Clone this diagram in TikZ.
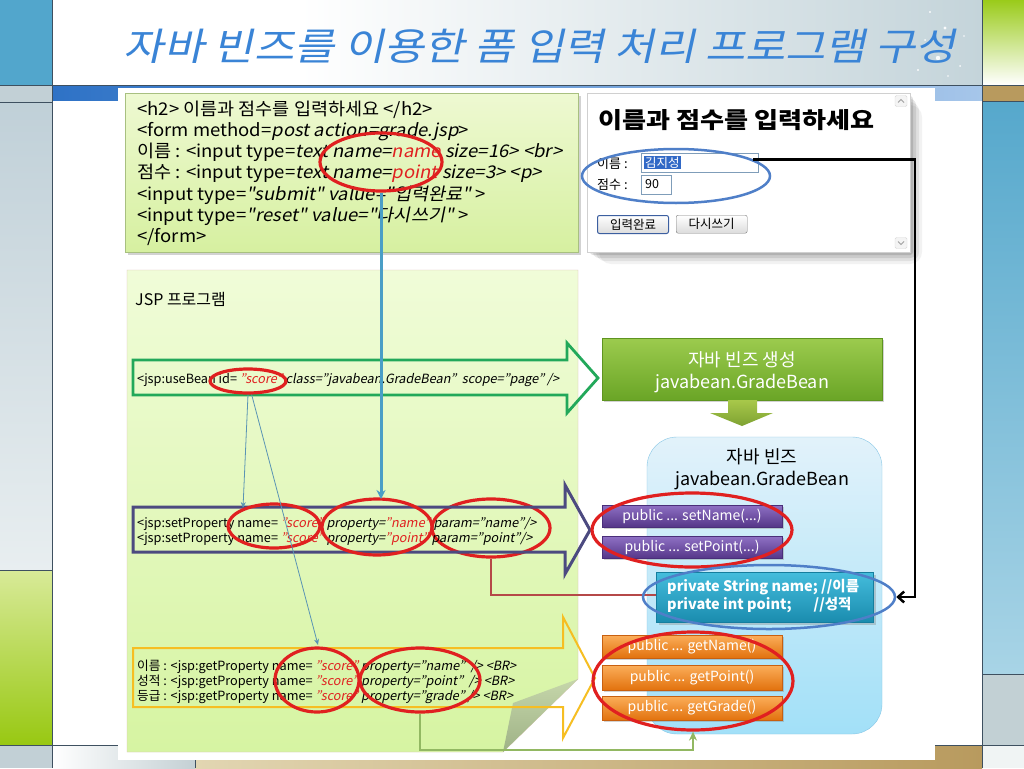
\documentclass[tikz,border=0pt]{standalone}
\usepackage{fontspec}
\setmainfont{Noto Sans CJK KR}[ItalicFont={Noto Sans CJK KR}, ItalicFeatures={FakeSlant=0.2}]
\newfontfamily\codefont{Noto Sans CJK KR}[FakeStretch=1.06, ItalicFont={Noto Sans CJK KR}, ItalicFeatures={FakeSlant=0.2}]
\newfontfamily\titlefont{Noto Sans CJK KR}[FakeSlant=0.22, FakeStretch=1.15]
\newfontfamily\formtitlefont{Noto Sans CJK KR}[FakeStretch=1.16]
\usetikzlibrary{shapes.geometric,arrows.meta,shadows,calc}
\newcommand\hc[1]{\definecolor{HTML#1}{HTML}{#1}}
\hc{C0D0D8}\hc{E8EEF0}\hc{D8EA98}\hc{98C812}\hc{C4D4DA}\hc{2E72C6}\hc{A6C6EA}\hc{9ACB1A}
\hc{B89A5E}\hc{56A8CC}\hc{A8D4E6}\hc{C2D0D4}\hc{F0F4F4}\hc{C4D0D4}\hc{E2D6B2}\hc{A8C080}
\hc{EEF9D2}\hc{D6F0A0}\hc{D0D0D0}\hc{D8D8D8}\hc{F4F4F4}\hc{A0A0A0}\hc{3169C6}\hc{3C5FA0}
\hc{F0FCD8}\hc{D6F4A2}\hc{D9BDB4}\hc{A9BE8E}\hc{9CCB4E}\hc{6AA526}\hc{5E9420}\hc{A8C84A}
\hc{7EA232}\hc{E2F2FA}\hc{A2E0F8}\hc{86C6E6}\hc{44BCDC}\hc{1A8CAE}\hc{157E9E}
\hc{8E70C4}\hc{553688}\hc{4A2E7A}\hc{FBAE5A}\hc{E2720E}\hc{C86010}\hc{7F9DB9}\hc{7A7A7A}\hc{DCDCDC}
\hc{C6D6AA}\hc{9EB286}
\definecolor{codered}{HTML}{E02020}
\definecolor{leftblue}{HTML}{52A6CC}
\definecolor{bandgray}{HTML}{C2D0D6}
\definecolor{framec}{HTML}{3E5060}
\definecolor{titleblue}{HTML}{3A84D6}
\definecolor{ellblue}{HTML}{4F7FC8}
\definecolor{arrgreen}{HTML}{22A85A}
\definecolor{arrpurple}{HTML}{4C4A80}
\definecolor{arrgold}{HTML}{F6BE22}
\definecolor{lineblue}{HTML}{4A9EC6}
\definecolor{thinblue}{HTML}{5A94B4}
\definecolor{darkred}{HTML}{B54848}
\definecolor{conngreen}{HTML}{92B862}
\newcommand\redit[1]{\textcolor{codered}{\itshape #1}}
\newcommand\fsz[1]{\fontsize{#1}{#1}\selectfont}
\tikzset{
  codeln/.style={anchor=base west, inner sep=0, font=\codefont\fsz{17.5}},
  jspln/.style={anchor=base west, inner sep=0, font=\fsz{12.7}},
  redell/.style={ellipse, draw=codered, line width=3.2, inner sep=0},
  blueell/.style={ellipse, draw=ellblue, line width=2.5, inner sep=0},
  btnbase/.style={rectangle, inner sep=0, minimum width=180, text=white, font=\fsz{14},
     drop shadow={opacity=0.35, shadow xshift=1.5pt, shadow yshift=-1.5pt}},
  purplebtn/.style={btnbase, top color=HTML8E70C4, bottom color=HTML553688, draw=HTML4A2E7A},
  orangebtn/.style={btnbase, top color=HTMLFBAE5A, bottom color=HTMLE2720E, draw=HTMLC86010},
  formfield/.style={rectangle, draw=HTML7F9DB9, fill=white, inner sep=0, anchor=north west},
  formbtn/.style={rectangle, draw=HTML7A7A7A, rounded corners=2, top color=white, bottom color=HTMLDCDCDC, inner sep=0, minimum width=71, minimum height=18, anchor=north west, font=\fsz{12.5}},
}
\begin{document}
\begin{tikzpicture}[x=1pt,y=-1pt]
\useasboundingbox (0,0) rectangle (1024,768);
% ---------- frame ----------
\fill[leftblue] (0,0) rectangle (52,85);
\fill[bandgray] (0,85) rectangle (52,102);
\shade[top color=HTMLC0D0D8, bottom color=HTMLE8EEF0] (0,102) rectangle (52,570);
\shade[top color=HTMLD8EA98, bottom color=HTML98C812] (0,570) rectangle (52,745);
\fill[bandgray] (0,745) rectangle (52,768);
\fill[white] (52,0) rectangle (982,85);
\shade[left color=white, right color=HTMLC4D4DA] (300,0) rectangle (982,85);
\shade[left color=HTML2E72C6, right color=HTMLA6C6EA] (52,85) rectangle (982,101);
\shade[top color=HTML9ACB1A, bottom color=white] (982,0) rectangle (1024,85);
\fill[HTMLB89A5E] (982,85) rectangle (1024,101);
\shade[top color=HTML56A8CC, bottom color=HTMLA8D4E6] (982,101) rectangle (1024,674);
\fill[HTMLC2D0D4] (982,674) rectangle (1024,745);
\fill[HTMLF0F4F4] (982,745) rectangle (1024,768);
\fill[white] (52,101) rectangle (982,745);
\shade[left color=white, right color=HTMLC4D0D4] (52,745) rectangle (195,768);
\shade[left color=HTMLE2D6B2, right color=HTMLB89A5E] (195,745) rectangle (982,768);
\draw[framec, line width=0.8] (0,85) -- (1024,85) (0,745) -- (1024,745)
  (52,0) -- (52,768) (982,0) -- (982,768) (0,102) -- (52,102) (0,570) -- (52,570)
  (982,101) -- (1024,101) (982,674) -- (1024,674) (195,745) -- (195,768);
% sparkle
\foreach \p/\r in {{930,12}/1.2,{945,28}/1.6,{925,40}/1.0,{952,48}/1.3,{938,58}/2.2,{960,66}/1.0,{918,70}/1.2,{948,76}/0.9,{964,36}/0.9}
  \fill[white, opacity=0.9] (\p) circle (\r);
\node[anchor=base, text=titleblue, font=\titlefont\fsz{38}, inner sep=0] (title) at (540,60) {자바 빈즈를 이용한 폼 입력 처리 프로그램 구성};
% ---------- content panel ----------
\fill[white] (118,88) rectangle (935,760);
% code box
\node[draw=HTMLA8C080, top color=HTMLEEF9D2, bottom color=HTMLD6F0A0, minimum width=453, minimum height=159, anchor=north west, inner sep=0,
  drop shadow={opacity=0.35, shadow xshift=3pt, shadow yshift=-3pt}] (codebox) at (125,93) {};
\node[codeln] (l1) at (137,115) {<h2> 이름과 점수를 입력하세요 </h2>};
\node[codeln] (l2) at (137,136) {<form method=\textit{post action=grade.jsp}>};
\node[codeln] (l3) at (137,157) {이름 : <input type=\textit{text name=\redit{name} size=16> <br>}};
\node[codeln] (l4) at (137,178) {점수 : <input type=\textit{text name=\redit{point} size=3> <p>}};
\node[codeln] (l5) at (137,200) {<input type=\textit{"submit" value="입력완료"} >};
\node[codeln] (l6) at (137,221) {<input type=\textit{"reset" value="다시쓰기"} >};
\node[codeln] (l7) at (137,242) {</form>};
% form screenshot
\foreach \s/\o in {12/0.05,9/0.07,6/0.09,3/0.12}
  \fill[black, opacity=\o, rounded corners=\s] ({587+\s},{93+\s}) rectangle ({910+\s},{252+\s});
\node[draw=HTMLD0D0D0, fill=white, minimum width=323, minimum height=159, anchor=north west, inner sep=0] (fb) at (587,93) {};
\node[draw=HTMLD8D8D8, fill=HTMLF4F4F4, rounded corners=1.5, minimum width=12, minimum height=11, inner sep=0] (su) at (901,101) {};
\node[draw=HTMLD8D8D8, fill=HTMLF4F4F4, rounded corners=1.5, minimum width=12, minimum height=11, inner sep=0] (sd) at (901,243) {};
\draw[HTMLA0A0A0, line width=0.8] ($(su)+(-3,1.5)$) -- ($(su)+(0,-1.5)$) -- ($(su)+(3,1.5)$);
\draw[HTMLA0A0A0, line width=0.8] ($(sd)+(-3,-1.5)$) -- ($(sd)+(0,1.5)$) -- ($(sd)+(3,-1.5)$);
\node[anchor=base west, inner sep=0, font=\formtitlefont\bfseries\fsz{22.5}] (ft) at (598,128) {이름과 점수를 입력하세요};
\node[anchor=base west, inner sep=0, font=\fsz{13}] (fl1) at (597,168) {이름 :};
\node[anchor=base west, inner sep=0, font=\fsz{13}] (fl2) at (597,189) {점수 :};
\node[formfield, minimum width=117, minimum height=19] (f1) at (641,153) {};
\node[formfield, minimum width=30, minimum height=19] (f2) at (641,175) {};
\node[anchor=west, fill=HTML3169C6, text=white, inner sep=1, font=\fsz{12.5}] (sel) at (644,162.5) {김지성};
\node[anchor=west, inner sep=0, font=\fsz{12.5}] (v90) at (645,184.5) {90};
\node[formbtn, draw=HTML3C5FA0, line width=1] (b1) at (597,215) {입력완료};
\node[formbtn] (b2) at (676,215) {다시쓰기};
% JSP panel with curled corner
\shade[top color=HTMLF0FCD8, bottom color=HTMLD6F4A2, draw=HTMLD9BDB4]
  (127,270) -- (578,270) -- (578,679) -- (503,752) -- (127,752) -- cycle;
\shade[top color=HTMLC6D6AA, bottom color=HTML9EB286] (578,679) -- (513,703) -- (503,752) -- cycle;
\node[anchor=base west, inner sep=0, font=\fsz{16}] (jsp) at (135,305) {JSP 프로그램};
% right side
\node[top color=HTML9CCB4E, bottom color=HTML6AA526, draw=HTML5E9420, minimum width=280, minimum height=62, inner sep=0,
  drop shadow={opacity=0.35, shadow xshift=2pt, shadow yshift=-2pt}] (gb) at (742,369) {};
\node[anchor=base, text=white, inner sep=0, font=\fsz{18}] (gbt1) at (742,366) {자바 빈즈 생성};
\node[anchor=base, text=white, inner sep=0, font=\fsz{18}] (gbt2) at (742,388) {javabean.GradeBean};
\shade[top color=HTMLA8C84A, bottom color=HTML7EA232]
  (728,400) -- (757,400) -- (757,413) -- (773,413) -- (742,426) -- (710,413) -- (728,413) -- cycle;
\node[rectangle, rounded corners=30, top color=HTMLE2F2FA, bottom color=HTMLA2E0F8, draw=HTML86C6E6, minimum width=235, minimum height=297, inner sep=0] (bb) at (764.5,585.5) {};
\node[anchor=base, inner sep=0, font=\fsz{18}] (bbt1) at (762,463) {자바 빈즈};
\node[anchor=base, inner sep=0, font=\fsz{18}] (bbt2) at (762,485) {javabean.GradeBean};
\node[purplebtn, minimum height=22] (sN) at (692,516) {public ... setName(...)};
\node[purplebtn, minimum height=22] (sP) at (692,547.5) {public ... setPoint(...)};
% red connector (behind teal box)
\coordinate (rc) at (688,595);
\coordinate (rtip) at (688,571);
\node[redell, minimum width=118, minimum height=58] (eParam) at (491,528) {};
\draw[darkred, line width=2.5, -{Stealth[length=9pt,width=8pt]}] (eParam.south) |- (rc) -- (rtip);
\node[rectangle, top color=HTML44BCDC, bottom color=HTML1A8CAE, draw=HTML157E9E, minimum width=217, minimum height=50, inner sep=0,
  drop shadow={opacity=0.35, shadow xshift=2pt, shadow yshift=-2pt}] (tb) at (765,597.5) {};
\node[anchor=base west, inner sep=0, text=white, font=\bfseries\fsz{14.5}] (tbt1) at (667,591) {private String\ name; //이름};
\node[anchor=base west, inner sep=0, text=white, font=\bfseries\fsz{14.5}] (tbt2) at (667,609) {private int\ point;\hspace{22pt}//성적};
\node[orangebtn, minimum height=23] (gN) at (692,646.5) {public ... getName()};
\node[orangebtn, minimum height=25] (gP) at (692,677.5) {public ... getPoint()};
\node[orangebtn, minimum height=24] (gG) at (692,708) {public ... getGrade()};
% hollow arrows
\draw[arrgreen, line width=2.8, line join=miter] (133,360) -- (567,360) -- (567,343) -- (598,378) -- (567,413) -- (567,395) -- (133,395) -- cycle;
\draw[arrpurple, line width=3, line join=miter] (133,507) -- (565,507) -- (565,485) -- (590,530) -- (565,574) -- (565,552) -- (133,552) -- cycle;
\draw[arrgold, line width=2, line join=miter] (133,648) -- (563,648) -- (563,617) -- (595,678) -- (563,738) -- (563,707) -- (133,707) -- cycle;
\node[jspln] (ub) at (137,383) {<jsp:useBean\ id= \redit{"score"}\ \textit{class="javabean.GradeBean"\ \ scope="page"\ />}};
\node[jspln] (sp1) at (137,527) {<jsp:setProperty\ name= \redit{"score"} \textit{property=\redit{"name"} param="name"/>}};
\node[jspln] (sp2) at (137,542) {<jsp:setProperty\ name= \redit{"score"} \textit{property=\redit{"point"} param="point"/>}};
\node[jspln] (gp1) at (137,670) {이름 : <jsp:getProperty\ name= \redit{"score"}\ \textit{property="name"\ \ /> <BR>}};
\node[jspln] (gp2) at (137,685) {성적 : <jsp:getProperty\ name= \redit{"score"}\ \textit{property="point"\ \ /> <BR>}};
\node[jspln] (gp3) at (137,700) {등급 : <jsp:getProperty\ name= \redit{"score"}\ \textit{property="grade" /> <BR>}};
% ellipses
\node[redell, minimum width=122, minimum height=58] (eCode) at (381,162) {};
\node[blueell, minimum width=188, minimum height=54] (eForm) at (676,176) {};
\node[redell, minimum width=76, minimum height=24] (eId) at (248,381) {};
\node[redell, minimum width=92, minimum height=44] (eSc1) at (274,526) {};
\node[redell, minimum width=110, minimum height=56] (eProp1) at (377,527) {};
\node[redell, minimum width=200, minimum height=74] (eSet) at (692,530) {};
\node[blueell, minimum width=252, minimum height=64] (eFields) at (769,597) {};
\node[redell, minimum width=84, minimum height=64] (eSc2) at (317,680) {};
\node[redell, minimum width=120, minimum height=64] (eProp2) at (420,680) {};
\node[redell, minimum width=200, minimum height=98] (eGet) at (693,681) {};
% connectors
\coordinate (pTop) at (381,499);
\draw[lineblue, line width=3, -{Stealth[length=9pt,width=9pt]}] (eCode.south) -- (pTop);
\coordinate (c1) at (243,508);
\coordinate (c2) at (318,645);
\draw[thinblue, line width=0.8, -{Stealth[length=6pt,width=5pt]}] (eId.south) -- (c1);
\draw[thinblue, line width=0.8, -{Stealth[length=6pt,width=5pt]}] (eId.-75) -- (c2);
\coordinate (gc) at (693,750);
\draw[conngreen, line width=2.5, -{Stealth[length=9pt,width=8pt]}] (eProp2.south) |- (gc) -- (eGet.south);
\coordinate (bc) at (915,597);
\draw[black, line width=2.5, -{Straight Barb[length=6pt,width=11pt]}] (eForm.12) -| (bc) -- (eFields.east);
\end{tikzpicture}
\end{document}
